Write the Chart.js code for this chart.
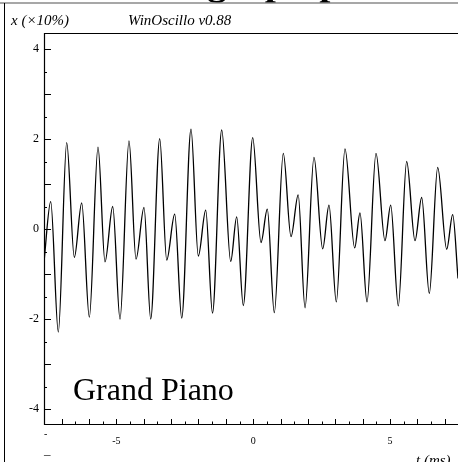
<!DOCTYPE html>
<html>
<head>
<meta charset="utf-8">
<script src="https://cdn.jsdelivr.net/npm/chart.js@4"></script>
<style>
  html, body { margin: 0; padding: 0; background: #fff; overflow: hidden; }
  #wrap { position: relative; width: 458px; height: 462px; }
</style>
</head>
<body>
<div id="wrap"><canvas id="osc-chart" width="458" height="462"></canvas></div>
<script>
// waveform extrema (t in ms, x in units of 10%)
var timeMs = [
  -7.644, -7.399, -7.121, -6.814, -6.536, -6.266, -5.988, -5.670, -5.415, -5.133,
  -4.867, -4.538, -4.282, -3.990, -3.745, -3.416, -3.160, -2.868, -2.612, -2.273,
  -2.006, -1.735, -1.487, -1.151, -0.822, -0.603, -0.362, -0.018, 0.285, 0.515,
  0.771, 1.100, 1.381, 1.644, 1.893, 2.221, 2.539, 2.769, 3.036, 3.354,
  3.708, 3.902, 4.158, 4.487, 4.815, 5.024, 5.301, 5.608, 5.912, 6.156,
  6.434, 6.741, 7.070, 7.289, 7.483
];
var amplitude = [
  -0.73, 0.61, -2.29, 1.92, -0.63, 0.58, -1.96, 1.82, -0.73, 0.50,
  -2.00, 1.96, -0.67, 0.48, -2.00, 2.01, -0.69, 0.33, -1.98, 2.22,
  -0.60, 0.42, -1.87, 2.20, -0.72, 0.27, -1.70, 2.03, -0.30, 0.44,
  -1.86, 1.68, -0.17, 0.76, -1.75, 1.59, -0.44, 0.53, -1.62, 1.78,
  -0.42, 0.36, -1.62, 1.68, -0.26, 0.53, -1.71, 1.50, -0.26, 0.70,
  -1.43, 1.37, -0.45, 0.32, -1.10
];
var yTickLabels = [-4, -2, 0, 2, 4];
var xTickLabels = [-5, 0, 5];
var xRange = [-7.644, 7.483];
var yRange = [-4.333, 4.356];

var points = timeMs.map(function (t, i) {
  return { x: t, y: amplitude[i] };
});

var SERIF = '"Liberation Serif", "DejaVu Serif", serif';

// frame, inward ticks and all the labels
var framePlugin = {
  id: "oscFrame",
  afterDraw: function (chart) {
    var ctx = chart.ctx;
    var a = chart.chartArea;
    var xs = chart.scales.x;
    var ys = chart.scales.y;
    ctx.save();

    // cropped piece of the page above
    ctx.fillStyle = "#000";
    ctx.font = "bold 40px " + SERIF;
    ctx.textBaseline = "alphabetic";
    ctx.textAlign = "left";
    ctx.fillText("graph p", 207, -6.5);
    ctx.strokeStyle = "#8a8a8a";
    ctx.lineWidth = 1.5;
    ctx.beginPath();
    ctx.moveTo(0, 3);
    ctx.lineTo(458, 3);
    ctx.stroke();
    ctx.strokeStyle = "#000";
    ctx.lineWidth = 1;
    ctx.beginPath();
    ctx.moveTo(4.5, 3);
    ctx.lineTo(4.5, 462);
    ctx.stroke();

    // axes box (no right side, it runs off the page)
    ctx.strokeStyle = "#000";
    ctx.lineWidth = 1.2;
    ctx.beginPath();
    ctx.moveTo(a.right + 2, a.top + 0.5);
    ctx.lineTo(a.left + 0.5, a.top + 0.5);
    ctx.lineTo(a.left + 0.5, a.bottom + 0.5);
    ctx.lineTo(a.right + 2, a.bottom + 0.5);
    ctx.stroke();

    // y ticks every 0.5, long on integers
    ctx.lineWidth = 1;
    for (var v = -4; v <= 4; v += 0.5) {
      var py = Math.round(ys.getPixelForValue(v)) + 0.5;
      var len = v % 1 === 0 ? 7 : 3;
      ctx.beginPath();
      ctx.moveTo(a.left, py);
      ctx.lineTo(a.left + len, py);
      ctx.stroke();
    }
    // x ticks every 0.5 ms, long on integers
    for (var t = -7; t <= 7.5; t += 0.5) {
      var px = Math.round(xs.getPixelForValue(t)) + 0.5;
      var tl = t % 1 === 0 ? 5 : 2.5;
      ctx.beginPath();
      ctx.moveTo(px, a.bottom);
      ctx.lineTo(px, a.bottom - tl);
      ctx.stroke();
    }

    // tick labels
    ctx.fillStyle = "#000";
    ctx.font = "12px " + SERIF;
    ctx.textAlign = "right";
    ctx.textBaseline = "middle";
    yTickLabels.forEach(function (v) {
      ctx.fillText(String(v), 39, ys.getPixelForValue(v));
    });
    ctx.font = "10px " + SERIF;
    ctx.textAlign = "center";
    xTickLabels.forEach(function (t) {
      ctx.fillText(String(t), xs.getPixelForValue(t), 441);
    });
    // clipped leftovers under the axis
    ctx.textAlign = "left";
    ctx.fillText("-", 44, 434);
    ctx.font = "13px " + SERIF;
    ctx.fillText("\u2013", 44, 455);

    // axis titles
    ctx.font = "italic 15px " + SERIF;
    ctx.textBaseline = "alphabetic";
    ctx.textAlign = "left";
    ctx.fillText("x (\u00d710%)", 11, 25);
    ctx.fillText("WinOscillo v0.88", 128, 25);
    ctx.fillText("t (ms)", 416, 465);

    // instrument label
    ctx.font = "32px " + SERIF;
    ctx.fillText("Grand Piano", 73, 399.5);
    ctx.restore();
  }
};

var ctxOsc = document.getElementById("osc-chart").getContext("2d");
var oscChart = new Chart(ctxOsc, {
  type: "line",
  data: {
    datasets: [
      {
        data: points,
        borderColor: "#000",
        borderWidth: 1.3,
        pointRadius: 0,
        fill: false,
        cubicInterpolationMode: "monotone"
      }
    ]
  },
  options: {
    responsive: false,
    animation: false,
    events: [],
    layout: { padding: { left: 44, top: 33, right: 0, bottom: 38 } },
    plugins: { legend: { display: false }, tooltip: { enabled: false } },
    scales: {
      x: { type: "linear", display: false, min: xRange[0], max: xRange[1] },
      y: { display: false, min: yRange[0], max: yRange[1] }
    }
  },
  plugins: [framePlugin]
});
</script>
</body>
</html>
